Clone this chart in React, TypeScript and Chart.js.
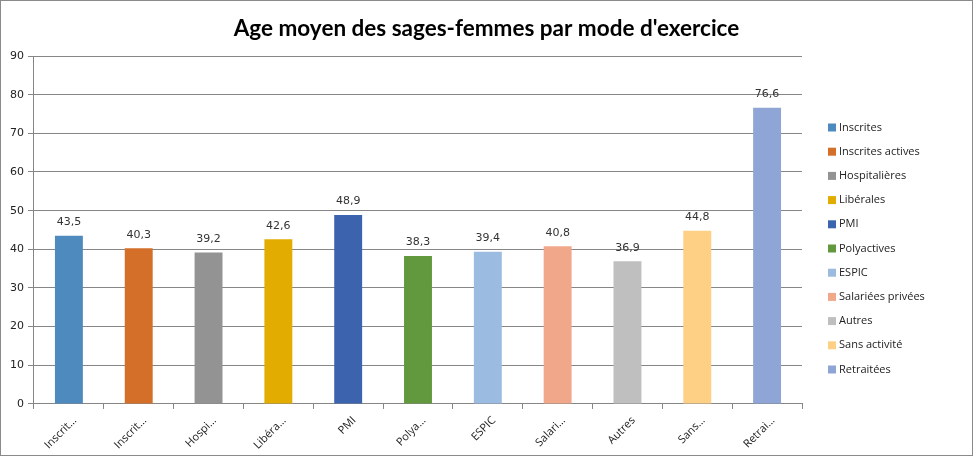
import React, { useEffect, useRef } from "react";
import { Chart, registerables } from "chart.js";

Chart.register(...registerables);

const categories = [
  "Inscrites",
  "Inscrites actives",
  "Hospitalières",
  "Libérales",
  "PMI",
  "Polyactives",
  "ESPIC",
  "Salariées privées",
  "Autres",
  "Sans activité",
  "Retraitées",
];
const tickLabels = [
  "Inscrit…",
  "Inscrit…",
  "Hospi…",
  "Libéra…",
  "PMI",
  "Polya…",
  "ESPIC",
  "Salari…",
  "Autres",
  "Sans…",
  "Retrai…",
];
const values = [43.5, 40.3, 39.2, 42.6, 48.9, 38.3, 39.4, 40.8, 36.9, 44.8, 76.6];
const colors = [
  "#4F8ABE",
  "#D46F2A",
  "#939393",
  "#E3AC00",
  "#3C64AE",
  "#62993E",
  "#9BBBE0",
  "#F1A78A",
  "#BFBFBF",
  "#FDD085",
  "#8EA5D5",
];
const title = "Age moyen des sages-femmes par mode d'exercice";

const valueLabels = {
  id: "valueLabels",
  afterDatasetsDraw(chart: any) {
    const ctx = chart.ctx;
    const meta = chart.getDatasetMeta(0);
    ctx.save();
    ctx.font = "11px 'DejaVu Sans'";
    ctx.fillStyle = "#333333";
    ctx.textAlign = "center";
    ctx.textBaseline = "bottom";
    meta.data.forEach((bar: any, i: number) => {
      const v = chart.data.datasets[0].data[i];
      ctx.fillText(String(v).replace(".", ","), bar.x, bar.y - 8);
    });
    ctx.restore();
  },
};

// Title centred on the whole canvas and legend placed to the right of the plot
const titleAndLegend = {
  id: "titleAndLegend",
  afterDraw(chart: any) {
    const ctx = chart.ctx;
    ctx.save();
    ctx.font = "bold 22.5px Lato";
    ctx.fillStyle = "#000";
    ctx.textAlign = "center";
    ctx.textBaseline = "middle";
    ctx.fillText(title, chart.width / 2, 27.5);

    const area = chart.chartArea;
    const x0 = area.right + 26;
    const step = 24.2;
    const yStart = 126.5;
    ctx.font = "11px 'Open Sans'";
    ctx.textAlign = "left";
    categories.forEach((c, i) => {
      const y = yStart + i * step;
      ctx.fillStyle = colors[i];
      ctx.fillRect(x0, y - 4, 8, 8);
      ctx.fillStyle = "#222";
      ctx.fillText(c, x0 + 11, y);
    });
    ctx.restore();
  },
};

export default function App() {
  const ref = useRef<HTMLCanvasElement>(null);
  useEffect(() => {
    document.body.style.margin = "0";
    const chart = new Chart(ref.current!, {
      type: "bar",
      data: {
        labels: categories,
        datasets: [
          {
            label: "Age moyen",
            data: values,
            backgroundColor: colors,
            barPercentage: 0.4,
            categoryPercentage: 1,
          },
        ],
      },
      options: {
        animation: false,
        responsive: true,
        maintainAspectRatio: false,
        layout: { padding: { left: 5, right: 170, top: 55, bottom: -2 } },
        plugins: {
          tooltip: { enabled: false },
          title: { display: false },
          legend: { display: false },
        },
        scales: {
          x: {
            grid: {
              drawOnChartArea: false,
              drawTicks: true,
              tickLength: 5,
              color: "#868686",
              offset: true,
            },
            border: { color: "#868686" },
            ticks: {
              minRotation: 45,
              maxRotation: 45,
              padding: 5,
              labelOffset: 6,
              color: "#222",
              font: { family: "Open Sans", size: 11 },
              callback: (_v: any, i: number) => tickLabels[i],
            },
          },
          y: {
            min: 0,
            max: 90,
            ticks: {
              stepSize: 10,
              color: "#222",
              font: { family: "DejaVu Sans", size: 11 },
              padding: 4,
            },
            grid: { color: "#868686", tickLength: 6 },
            border: { color: "#868686" },
          },
        },
      },
      plugins: [valueLabels, titleAndLegend],
    });
    return () => chart.destroy();
  }, []);
  return (
    <div
      style={{
        width: 973,
        height: 456,
        boxSizing: "border-box",
        border: "1px solid #8a8a8a",
        background: "#fff",
        position: "relative",
      }}
    >
      <canvas ref={ref} />
    </div>
  );
}
